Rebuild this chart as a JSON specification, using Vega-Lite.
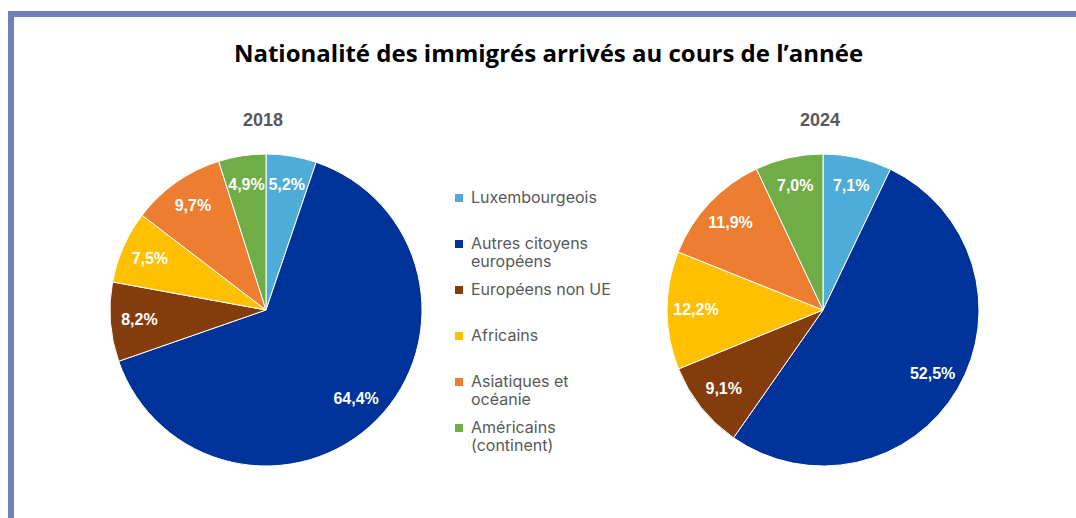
{
  "$schema": "https://vega.github.io/schema/vega-lite/v6.json",
  "autosize": {"type": "fit", "contains": "padding"},
  "width": 1076,
  "height": 518,
  "padding": {"left": 11, "top": 14, "right": -10, "bottom": -88},
  "background": "white",
  "title": {
    "text": "Nationalité des immigrés arrivés au cours de l’année",
    "font": "Open Sans",
    "fontSize": 24,
    "fontWeight": "bold",
    "color": "#000000",
    "anchor": "middle",
    "frame": "group",
    "baseline": "alphabetic",
    "offset": -72
  },
  "datasets": {
    "shares": [
      {"year": "2018", "k": 1, "cat": "Luxembourgeois", "v": 0.052},
      {"year": "2018", "k": 2, "cat": "Autres citoyens européens", "v": 0.644},
      {"year": "2018", "k": 3, "cat": "Européens non UE", "v": 0.082},
      {"year": "2018", "k": 4, "cat": "Africains", "v": 0.075},
      {"year": "2018", "k": 5, "cat": "Asiatiques et océanie", "v": 0.097},
      {"year": "2018", "k": 6, "cat": "Américains (continent)", "v": 0.049},
      {"year": "2024", "k": 1, "cat": "Luxembourgeois", "v": 0.071},
      {"year": "2024", "k": 2, "cat": "Autres citoyens européens", "v": 0.525},
      {"year": "2024", "k": 3, "cat": "Européens non UE", "v": 0.091},
      {"year": "2024", "k": 4, "cat": "Africains", "v": 0.122},
      {"year": "2024", "k": 5, "cat": "Asiatiques et océanie", "v": 0.119},
      {"year": "2024", "k": 6, "cat": "Américains (continent)", "v": 0.070}
    ],
    "years": [{"year": "2018"}, {"year": "2024"}]
  },
  "data": {"name": "shares"},
  "layer": [
    {
      "transform": [{"filter": "datum.year == '2018'"}],
      "mark": {"type": "arc", "outerRadius": 156, "stroke": "white", "strokeWidth": 1},
      "encoding": {
        "x": {"field": "year", "type": "nominal", "axis": null, "scale": {"type": "point", "domain": ["2018", "2024"], "range": [255, 812], "padding": 0}},
        "theta": {"field": "v", "type": "quantitative", "stack": true},
        "order": {"field": "k", "type": "quantitative"},
        "color": {
          "field": "cat",
          "type": "nominal",
          "scale": {
            "domain": ["Luxembourgeois", "Autres citoyens européens", "Européens non UE", "Africains", "Asiatiques et océanie", "Américains (continent)"],
            "range": ["#4EACD9", "#003399", "#843C0C", "#FFC000", "#ED7D31", "#70AD47"]
          },
          "legend": {
            "title": null,
            "orient": "none",
            "legendX": 440,
            "legendY": 176,
            "symbolType": "square",
            "symbolSize": 64,
            "symbolStrokeWidth": 0,
            "labelFont": "Inter",
            "labelFontSize": 16,
            "labelColor": "#595959",
            "labelOffset": 4,
            "labelBaseline": "middle",
            "labelLimit": 300,
            "gridAlign": "all",
            "rowPadding": 12,
            "padding": 0,
            "labelExpr": "datum.label == 'Autres citoyens européens' ? ['Autres citoyens', 'européens'] : datum.label == 'Asiatiques et océanie' ? ['Asiatiques et', 'océanie'] : datum.label == 'Américains (continent)' ? ['Américains', '(continent)'] : datum.label",
            "encode": {"labels": {"update": {"lineHeight": {"value": 20}}}}
          }
        }
      }
    },
    {
      "transform": [{"filter": "datum.year == '2018'"}],
      "mark": {"type": "text", "radius": 127, "font": "Liberation Sans", "fontSize": 16, "fontWeight": "bold", "fill": "white", "align": "center", "baseline": "middle"},
      "encoding": {
        "x": {"field": "year", "type": "nominal"},
        "theta": {"field": "v", "type": "quantitative", "stack": true},
        "order": {"field": "k", "type": "quantitative"},
        "detail": {"field": "cat", "type": "nominal"},
        "text": {"field": "v", "type": "quantitative", "format": ".1%"}
      }
    },
    {
      "transform": [{"filter": "datum.year == '2024'"}],
      "mark": {"type": "arc", "outerRadius": 156, "stroke": "white", "strokeWidth": 1},
      "encoding": {
        "x": {"field": "year", "type": "nominal"},
        "theta": {"field": "v", "type": "quantitative", "stack": true},
        "order": {"field": "k", "type": "quantitative"},
        "color": {"field": "cat", "type": "nominal"}
      }
    },
    {
      "transform": [{"filter": "datum.year == '2024'"}],
      "mark": {"type": "text", "radius": 127, "font": "Liberation Sans", "fontSize": 16, "fontWeight": "bold", "fill": "white", "align": "center", "baseline": "middle"},
      "encoding": {
        "x": {"field": "year", "type": "nominal"},
        "theta": {"field": "v", "type": "quantitative", "stack": true},
        "order": {"field": "k", "type": "quantitative"},
        "detail": {"field": "cat", "type": "nominal"},
        "text": {"field": "v", "type": "quantitative", "format": ".1%"}
      }
    },
    {
      "data": {"name": "years"},
      "mark": {"type": "text", "radius": 189, "theta": 0, "dx": -3, "font": "Liberation Sans", "fontSize": 18, "fontWeight": "bold", "fill": "#595959", "align": "center", "baseline": "middle"},
      "encoding": {
        "x": {"field": "year", "type": "nominal"},
        "text": {"field": "year", "type": "nominal"}
      }
    }
  ],
  "resolve": {"scale": {"theta": "independent"}},
  "config": {
    "view": {"stroke": "#6F7FBE", "strokeWidth": 6},
    "locale": {"number": {"decimal": ",", "thousands": " ", "grouping": [3], "currency": ["", " €"]}}
  }
}
